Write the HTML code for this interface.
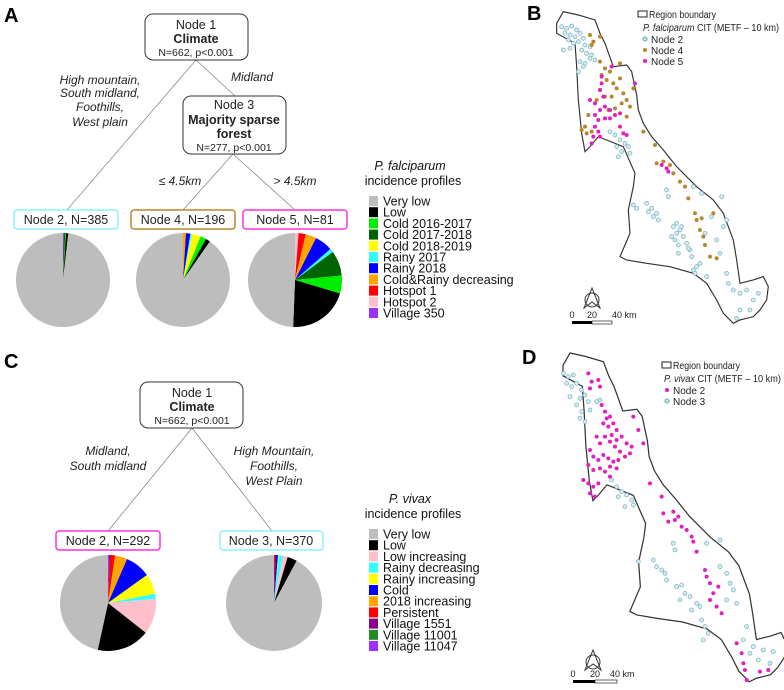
<!DOCTYPE html>
<html><head><meta charset="utf-8"><style>
html,body{margin:0;padding:0;background:#fff}
svg{display:block;font-family:"Liberation Sans",sans-serif}
</style></head><body>
<svg id="fig" width="784" height="690" viewBox="0 0 784 690">
<text x="4" y="22" font-size="20" font-weight="bold">A</text>
<text x="527" y="20" font-size="20" font-weight="bold">B</text>
<text x="4" y="368" font-size="20" font-weight="bold">C</text>
<text x="522" y="364" font-size="20" font-weight="bold">D</text>

<g font-size="12.5" text-anchor="middle" fill="#222">
<line x1="196" y1="60" x2="67" y2="210" stroke="#888" stroke-width="0.8"/>
<line x1="196" y1="60" x2="235" y2="96" stroke="#888" stroke-width="0.8"/>
<line x1="233" y1="154" x2="183" y2="210" stroke="#888" stroke-width="0.8"/>
<line x1="233" y1="154" x2="295" y2="210" stroke="#888" stroke-width="0.8"/>
<rect x="145" y="14" width="103" height="46" rx="8" fill="#fff" stroke="#333"/>
<text x="196" y="29">Node 1</text><text x="196" y="43" font-weight="bold">Climate</text><text x="196" y="56" font-size="10.5">N=662, p&lt;0.001</text>
<rect x="183" y="96" width="103" height="58" rx="8" fill="#fff" stroke="#333"/>
<text x="234" y="109">Node 3</text><text x="234" y="124" font-weight="bold">Majority sparse</text><text x="234" y="138" font-weight="bold">forest</text><text x="234" y="151" font-size="10.5">N=277, p&lt;0.001</text>
<g font-style="italic" font-size="12">
<text x="100" y="84">High mountain,</text><text x="100" y="97">South midland,</text><text x="100" y="111">Foothills,</text><text x="100" y="126">West plain</text>
<text x="252" y="81">Midland</text>
<text x="180" y="185">≤ 4.5km</text><text x="295" y="185">&gt; 4.5km</text>
</g>
<rect x="14" y="210" width="104" height="19" rx="3" fill="#fff" stroke="#8ff0ff" stroke-width="1.5"/>
<text x="66" y="224">Node 2, N=385</text>
<rect x="131" y="210" width="104" height="19" rx="3" fill="#fff" stroke="#b8862b" stroke-width="1.5"/>
<text x="183" y="224">Node 4, N=196</text>
<rect x="243" y="210" width="104" height="19" rx="3" fill="#fff" stroke="#ff33dd" stroke-width="1.5"/>
<text x="295" y="224">Node 5, N=81</text>
</g>

<g font-size="12.5" text-anchor="middle" fill="#222">
<line x1="192" y1="428" x2="108" y2="531" stroke="#888" stroke-width="0.8"/>
<line x1="192" y1="428" x2="272" y2="531" stroke="#888" stroke-width="0.8"/>
<rect x="140" y="382" width="103" height="46" rx="8" fill="#fff" stroke="#333"/>
<text x="192" y="397">Node 1</text><text x="192" y="411" font-weight="bold">Climate</text><text x="192" y="424" font-size="10.5">N=662, p&lt;0.001</text>
<g font-style="italic" font-size="12">
<text x="108" y="455">Midland,</text><text x="108" y="470">South midland</text>
<text x="274" y="455">High Mountain,</text><text x="274" y="470">Foothills,</text><text x="274" y="485">West Plain</text>
</g>
<rect x="56" y="531" width="104" height="19" rx="3" fill="#fff" stroke="#ff33dd" stroke-width="1.5"/>
<text x="108" y="545">Node 2, N=292</text>
<rect x="220" y="531" width="103" height="19" rx="3" fill="#fff" stroke="#8ff0ff" stroke-width="1.5"/>
<text x="271" y="545">Node 3, N=370</text>
</g>

<g id="pies"></g>
<g id="legends" font-size="12.5" fill="#111"></g>

<g transform="translate(520,0) scale(0.3333)">
<path id="regionB" fill="none" stroke="#333" stroke-width="3.5"
d="M110,70 L130,35 L175,45 L225,60 L240,100 L255,130 L280,200 L320,195 L335,215 L350,285 L355,330 L370,370 L395,410 L430,450 L470,500 L530,560 L580,600 L610,640 L625,680 L640,720 L650,780 L660,850 L700,840 L730,830 L745,860 L740,900 L720,930 L700,950 L660,960 L640,970 L610,940 L590,900 L560,850 L520,820 L450,800 L380,790 L320,780 L300,770 L330,700 L325,630 L340,560 L345,520 L310,440 L260,420 L235,410 L210,440 L195,455 L185,400 L175,300 L170,200 L165,130 L110,100 Z"/>
<g id="ptsB"></g>
</g>
<g font-size="10" fill="#222">
<rect x="638" y="11" width="9" height="6" fill="none" stroke="#222"/>
<text x="649" y="18" textLength="67" lengthAdjust="spacingAndGlyphs">Region boundary</text>
<text x="643" y="31" textLength="136" lengthAdjust="spacingAndGlyphs"><tspan font-style="italic">P. falciparum</tspan> CIT (METF – 10 km)</text>
<circle cx="645" cy="39" r="2" fill="#bfe8ec" stroke="#6aa"/><text x="651" y="43">Node 2</text>
<circle cx="645" cy="50" r="2" fill="#b8862b"/><text x="651" y="54">Node 4</text>
<circle cx="645" cy="61" r="2" fill="#e020c0"/><text x="651" y="65">Node 5</text>
</g>
<g font-size="9" fill="#222">
<path d="M592,288 L584,308 L592,302 L600,308 Z" fill="none" stroke="#333"/>
<circle cx="592" cy="300" r="7" fill="none" stroke="#333"/>
<text x="572" y="318" text-anchor="middle">0</text><text x="592" y="318" text-anchor="middle">20</text><text x="612" y="318">40 km</text>
<rect x="572" y="321" width="20" height="3" fill="#000"/><rect x="592" y="321" width="20" height="3" fill="#fff" stroke="#000" stroke-width="0.6"/>
</g>

<g transform="translate(510,340) scale(0.3333)">
<g transform="translate(43,2) scale(1.055)"><use href="#regionB"/></g>
<g id="ptsD"></g>
</g>
<g font-size="10" fill="#222">
<rect x="662" y="362" width="9" height="6" fill="none" stroke="#222"/>
<text x="673" y="369" textLength="67" lengthAdjust="spacingAndGlyphs">Region boundary</text>
<text x="664" y="382" textLength="117" lengthAdjust="spacingAndGlyphs"><tspan font-style="italic">P. vivax</tspan> CIT (METF – 10 km)</text>
<circle cx="667" cy="390" r="2" fill="#e020c0"/><text x="673" y="394">Node 2</text>
<circle cx="667" cy="401" r="2" fill="#bfe8ec" stroke="#6aa"/><text x="673" y="405">Node 3</text>
</g>
<g font-size="9" fill="#222">
<path d="M593,650 L585,670 L593,664 L601,670 Z" fill="none" stroke="#333"/>
<circle cx="593" cy="662" r="7" fill="none" stroke="#333"/>
<text x="573" y="677" text-anchor="middle">0</text><text x="595" y="677" text-anchor="middle">20</text><text x="610" y="677">40 km</text>
<rect x="573" y="680" width="22" height="3" fill="#000"/><rect x="595" y="680" width="22" height="3" fill="#fff" stroke="#000" stroke-width="0.6"/>
</g>
</svg>
<script>
const NS="http://www.w3.org/2000/svg";
const pfCategories=["Very low","Low","Cold 2016-2017","Cold 2017-2018","Cold 2018-2019","Rainy 2017","Rainy 2018","Cold&Rainy decreasing","Hotspot 1","Hotspot 2","Village 350"];
const pfColors=["#bdbdbd","#000000","#00ee00","#006400","#ffff00","#33ffff","#0000ff","#ffa500","#ff0000","#ffc0cb","#9b30ff"];
const pfNode2=[378,3,1,2,0,0,0,0,0,0,1];
const pfNode4=[177,3,4,0,6,1,3,2,0,0,0];
const pfNode5=[40,17,5,7,0,1,5,3,2,1,0];
const pvCategories=["Very low","Low","Low increasing","Rainy decreasing","Rainy increasing","Cold","2018 increasing","Persistent","Village 1551","Village 11001","Village 11047"];
const pvColors=["#bdbdbd","#000000","#ffc0cb","#33ffff","#ffff00","#0000ff","#ffa500","#ff0000","#8b008b","#228b22","#9b30ff"];
const pvNode2=[136,52,35,5,20,25,12,5,1,0,1];
const pvNode3=[341,12,6,5,1,3,0,2,0,0,0];

const pfMapNode2=[[125,80],[140,85],[155,78],[170,90],[135,100],[150,105],[165,110],[180,100],[190,115],[145,120],[160,130],[175,125],[195,135],[210,140],[130,150],[150,145],[185,150],[200,160],[215,165],[180,185],[195,190],[210,175],[225,180],[175,215],[190,200],[270,395],[285,405],[300,420],[315,430],[290,440],[305,455],[325,440],[295,470],[330,460],[380,610],[395,625],[410,640],[400,650],[415,660],[385,635],[440,570],[445,590],[460,680],[470,700],[455,710],[480,690],[465,720],[475,735],[490,710],[500,730],[510,750],[515,770],[530,800],[520,810],[525,820],[540,790],[560,830],[555,700],[575,650],[590,720],[600,760],[610,680],[620,660],[605,590],[545,580],[520,560],[620,820],[625,850],[640,870],[660,880],[680,870],[700,900],[715,880],[690,930],[660,930],[650,955],[340,615],[350,625],[475,760],[485,680],[505,745],[470,670]];
const pfMapNode4=[[210,105],[220,125],[240,110],[215,135],[240,185],[255,205],[270,215],[245,225],[260,240],[280,250],[300,235],[290,265],[310,280],[320,300],[330,320],[305,310],[275,290],[255,290],[240,270],[230,300],[205,345],[195,380],[200,400],[215,395],[185,390],[265,330],[285,325],[320,350],[340,265],[300,190],[370,395],[405,435],[410,490],[430,485],[450,495],[460,520],[480,545],[495,560],[505,595],[525,640],[530,660],[540,690],[550,710],[555,735],[570,770],[590,775],[580,640],[545,655]];
const pfMapNode5=[[245,230],[245,250],[240,270],[250,290],[210,300],[225,310],[240,330],[255,320],[270,330],[285,345],[300,340],[225,345],[235,360],[255,355],[270,355],[225,380],[235,395],[220,410],[215,430],[300,380],[310,400],[320,405],[345,250],[275,200],[240,410],[425,495],[440,505],[445,515]];
const pvMapNode2=[[235,100],[245,125],[240,145],[265,120],[270,140],[275,195],[285,215],[290,235],[300,230],[280,250],[295,260],[310,250],[320,270],[305,285],[285,290],[300,305],[320,300],[335,290],[350,310],[365,320],[360,340],[345,350],[330,335],[315,320],[240,330],[250,350],[265,360],[280,345],[295,355],[310,365],[325,360],[300,380],[320,385],[235,375],[250,390],[270,385],[285,395],[220,420],[235,430],[250,440],[265,430],[240,460],[255,470],[300,410],[260,290],[270,310],[370,230],[385,270],[400,310],[420,430],[455,470],[460,520],[475,545],[490,515],[505,530],[515,560],[530,570],[545,590],[550,605],[560,635],[585,690],[590,710],[600,730],[610,760],[620,800],[635,820],[600,780],[625,740],[680,910],[695,940],[700,970],[705,990],[710,1020],[750,995],[775,990],[495,540]];
const pvMapNode3=[[160,100],[175,110],[190,105],[170,130],[185,140],[200,130],[215,150],[225,165],[210,175],[235,185],[180,170],[200,195],[215,215],[240,210],[260,185],[270,180],[210,235],[225,245],[305,420],[320,440],[335,455],[350,465],[365,480],[345,500],[325,470],[370,495],[490,610],[495,630],[385,665],[430,660],[440,680],[455,690],[465,700],[470,720],[500,740],[515,735],[525,760],[510,780],[540,770],[560,790],[545,810],[570,800],[575,840],[585,860],[595,880],[580,900],[630,680],[650,700],[660,730],[670,750],[650,780],[630,600],[590,610],[680,790],[710,860],[700,900],[730,920],[760,930],[790,935],[745,960],[780,970],[720,940]];

function drawPie(parent,name,vals,colors,cx,cy,r){
  const g=document.createElementNS(NS,"g");
  
  
  parent.appendChild(g);
  const total=vals.reduce((a,b)=>a+b,0);
  let a0=0;
  for(let i=vals.length-1;i>=0;i--){
    const v=vals[i]; if(!v) continue;
    const a1=a0+v/total*2*Math.PI;
    const x0=cx+r*Math.sin(a0), y0=cy-r*Math.cos(a0), x1=cx+r*Math.sin(a1), y1=cy-r*Math.cos(a1);
    const large=(a1-a0)>Math.PI?1:0;
    const p=document.createElementNS(NS,"path");
    p.setAttribute("d",`M${cx},${cy} L${x0},${y0} A${r},${r} 0 ${large} 1 ${x1},${y1} Z`);
    p.setAttribute("fill",colors[i]);
    
    
    g.appendChild(p);
    a0=a1;
  }
}
const pies=document.getElementById("pies");
drawPie(pies,"pie-pf-node2",pfNode2,pfColors,63,280,47);
drawPie(pies,"pie-pf-node4",pfNode4,pfColors,183,280,47);
drawPie(pies,"pie-pf-node5",pfNode5,pfColors,295,280,47);
drawPie(pies,"pie-pv-node2",pvNode2,pvColors,108,603,48);
drawPie(pies,"pie-pv-node3",pvNode3,pvColors,274,603,48);

function drawLegend(parent,name,title,cats,colors,y0){
  const g=document.createElementNS(NS,"g");
  
  
  parent.appendChild(g);
  const t1=document.createElementNS(NS,"text");
  t1.setAttribute("x",410);t1.setAttribute("y",y0-19);t1.setAttribute("text-anchor","middle");t1.setAttribute("font-style","italic");
  t1.textContent=title; g.appendChild(t1);
  const t2=document.createElementNS(NS,"text");
  t2.setAttribute("x",413);t2.setAttribute("y",y0-4);t2.setAttribute("text-anchor","middle");
  t2.textContent="incidence profiles"; g.appendChild(t2);
  cats.forEach((c,i)=>{
    const y=y0+8+i*11.2;
    const r=document.createElementNS(NS,"rect");
    r.setAttribute("x",369);r.setAttribute("y",y-1);r.setAttribute("width",9);r.setAttribute("height",10);r.setAttribute("fill",colors[i]);
    
    
    g.appendChild(r);
    const t=document.createElementNS(NS,"text");
    t.setAttribute("x",383);t.setAttribute("y",y+8.5);t.textContent=c;
    
    
    g.appendChild(t);
  });
}
const leg=document.getElementById("legends");
drawLegend(leg,"legend-pf","P. falciparum",pfCategories,pfColors,189);
drawLegend(leg,"legend-pv","P. vivax",pvCategories,pvColors,522);

function drawPts(parent,pts,fill,stroke){
  pts.forEach(p=>{
    const c=document.createElementNS(NS,"circle");
    c.setAttribute("cx",p[0]);c.setAttribute("cy",p[1]);c.setAttribute("r",6);
    c.setAttribute("fill",fill);
    if(stroke){c.setAttribute("stroke",stroke);c.setAttribute("stroke-width",2);}
    
    
    parent.appendChild(c);
  });
}
const pB=document.getElementById("ptsB");
drawPts(pB,pfMapNode2,"#cdeef2","#7ab");
drawPts(pB,pfMapNode4,"#b8862b");
drawPts(pB,pfMapNode5,"#e020c0");
const pD=document.getElementById("ptsD");
drawPts(pD,pvMapNode3,"#cdeef2","#7ab");
drawPts(pD,pvMapNode2,"#e020c0");
</script>
</body></html>
